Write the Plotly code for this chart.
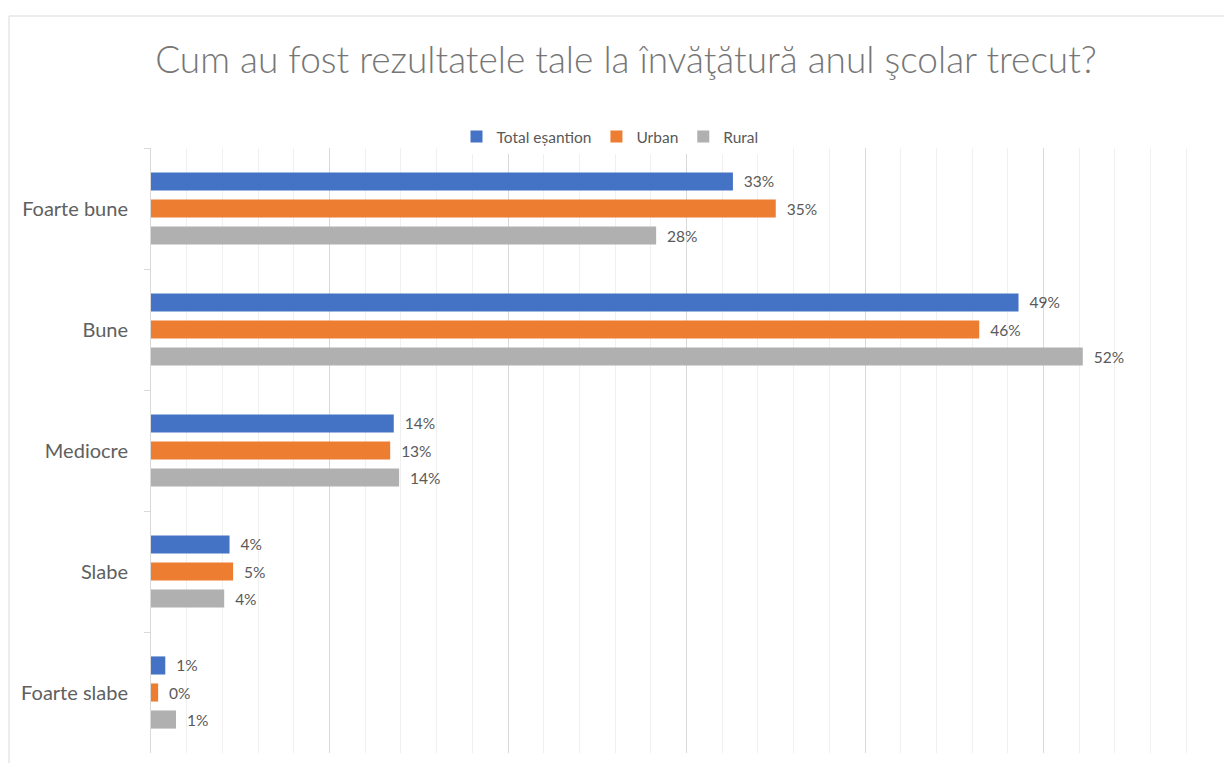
import plotly.graph_objects as go

categories = ["Foarte bune", "Bune", "Mediocre", "Slabe", "Foarte slabe"]
series_names = ["Total eșantion", "Urban", "Rural"]
total_vals = [32.6, 48.6, 13.6, 4.4, 0.8]
urban_vals = [35.0, 46.4, 13.4, 4.6, 0.4]
rural_vals = [28.3, 52.2, 13.9, 4.1, 1.4]
colors = ["#4472C4", "#ED7D31", "#B0B0B0"]
title_text = "Cum au fost rezultatele tale la învăţătură anul şcolar trecut?"

FONT = "Lato"
# page body has an 8px margin; figure is sized/offset to compensate
W, H = 1224, 755
ML, MR, MT, MB = 143, 10, 140, 10
pw = W - ML - MR
ph = H - MT - MB

fig = go.Figure()
for name, vals, col in zip(series_names, [total_vals, urban_vals, rural_vals], colors):
    fig.add_trace(go.Bar(
        y=categories, x=vals, name=name, orientation="h",
        marker=dict(color=col, line=dict(width=0)),
        text=["\u00a0\u00a0" + f"{v:.0f}%" for v in vals],
        textposition="outside", cliponaxis=False,
        textfont=dict(family=FONT, size=15.5, color="#595959"),
    ))

fig.update_layout(
    width=W, height=H,
    margin=dict(l=ML, r=MR, t=MT, b=MB, autoexpand=False),
    paper_bgcolor="white", plot_bgcolor="white",
    barmode="group", bargap=0.33, bargroupgap=0.33,
    title=dict(text=title_text, x=618 / W, xanchor="center", xref="container",
               y=1 - 52 / H, yanchor="middle", yref="container",
               font=dict(family=FONT, size=37, color="#767676", weight=300)),
    legend=dict(orientation="h", xref="paper", yref="paper",
                x=(602 - ML) / pw, xanchor="center",
                y=(H - MB - 129) / ph, yanchor="middle",
                font=dict(family=FONT, size=15.5, color="#595959"),
                itemwidth=30, tracegroupgap=0),
    xaxis=dict(range=[0, 60], dtick=10, showticklabels=False, showgrid=True,
               gridcolor="#d9d9d9", gridwidth=1, zeroline=False, showline=False,
               minor=dict(dtick=2, showgrid=True, gridcolor="#f0f0f0", gridwidth=1)),
    yaxis=dict(autorange="reversed", showline=True, linecolor="#d9d9d9", linewidth=1,
               ticks="outside", tickson="boundaries", ticklen=6, tickcolor="#d9d9d9",
               ticklabelstandoff=18, showgrid=False,
               tickfont=dict(family=FONT, size=20, color="#606060")),
    font=dict(family=FONT),
    shapes=[dict(type="rect", xref="paper", yref="paper",
                 x0=(1 - ML) / pw, x1=(W + 20 - ML) / pw,
                 y0=-20 / ph, y1=(H - MB - 8) / ph,
                 line=dict(color="#d9d9d9", width=1), fillcolor="rgba(0,0,0,0)",
                 layer="below")],
)

fig.write_html("out.html")
